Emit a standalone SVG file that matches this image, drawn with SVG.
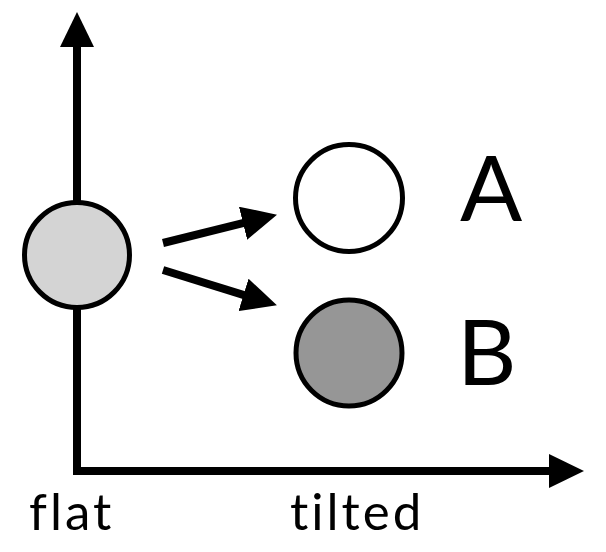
<svg xmlns="http://www.w3.org/2000/svg" width="606" height="552" viewBox="0 0 606 552">
<style>
.ln{fill:none;stroke:#000;stroke-width:8;marker-end:url(#ah)}
.nd{stroke:#000;stroke-width:5}
.lbl{font-family:Lato,"Open Sans",sans-serif;fill:#000;font-variant-ligatures:none}
.ax{font-size:51px;letter-spacing:3px}
</style>
<defs>
<marker id="ah" markerUnits="userSpaceOnUse" markerWidth="36" markerHeight="34" refX="4" refY="17" orient="auto-start-reverse" viewBox="0 0 36 34">
<path d="M0,0 L35,17 L0,34 Z" fill="#000"/>
</marker>
</defs>
<rect width="606" height="552" fill="#fff"/>
<g id="connectors">
<path class="ln" d="M77,43 L77,471 L553,471" style="marker-start:url(#ah)"/>
<path class="ln" d="M163,243 L246.9,222.2"/>
<path class="ln" d="M163,270 L247.3,296.1"/>
</g>
<g id="flat">
<circle class="nd" cx="77" cy="255" r="52.5" fill="#d4d4d4"/>
</g>
<g id="A">
<circle class="nd" cx="349" cy="198" r="53.5" fill="#fff"/>
<text class="lbl" x="460" y="221" font-size="92">A</text>
</g>
<g id="B">
<circle class="nd" cx="349" cy="353" r="53" fill="#969696"/>
<text class="lbl" x="457" y="385" font-size="92">B</text>
</g>
<g id="axis-labels">
<text class="lbl ax" x="29" y="530">flat</text>
<text class="lbl ax" x="290" y="530">tilted</text>
</g>
</svg>
